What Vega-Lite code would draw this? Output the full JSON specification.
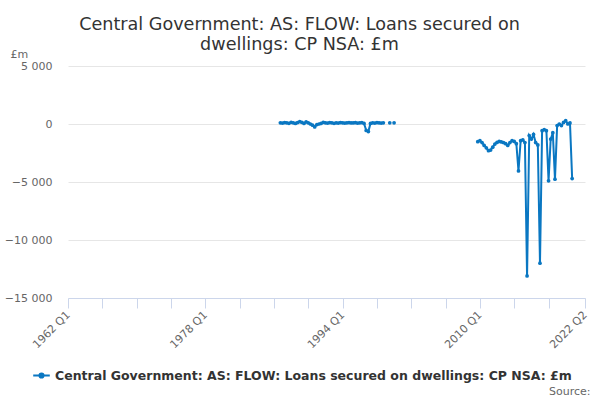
{
  "$schema": "https://vega.github.io/schema/vega-lite/v6.json",
  "autosize": "none",
  "width": 517,
  "height": 232,
  "padding": {"left": 68, "top": 66, "right": 15, "bottom": 102},
  "config": {
    "font": "DejaVu Sans",
    "view": {"stroke": null}
  },
  "title": {
    "text": ["Central Government: AS: FLOW: Loans secured on", "dwellings: CP NSA: £m"],
    "fontSize": 17.6,
    "fontWeight": "normal",
    "color": "#333333",
    "anchor": "middle",
    "dx": -27,
    "offset": -6,
    "lineHeight": 20
  },
  "data": {
    "values": [
      {"date": "1986-10-01", "value": 100, "series": "Central Government: AS: FLOW: Loans secured on dwellings: CP NSA: £m"},
      {"date": "1987-01-01", "value": 80, "series": "Central Government: AS: FLOW: Loans secured on dwellings: CP NSA: £m"},
      {"date": "1987-04-01", "value": 120, "series": "Central Government: AS: FLOW: Loans secured on dwellings: CP NSA: £m"},
      {"date": "1987-07-01", "value": 100, "series": "Central Government: AS: FLOW: Loans secured on dwellings: CP NSA: £m"},
      {"date": "1987-10-01", "value": 60, "series": "Central Government: AS: FLOW: Loans secured on dwellings: CP NSA: £m"},
      {"date": "1988-01-01", "value": 150, "series": "Central Government: AS: FLOW: Loans secured on dwellings: CP NSA: £m"},
      {"date": "1988-04-01", "value": 100, "series": "Central Government: AS: FLOW: Loans secured on dwellings: CP NSA: £m"},
      {"date": "1988-07-01", "value": 50, "series": "Central Government: AS: FLOW: Loans secured on dwellings: CP NSA: £m"},
      {"date": "1988-10-01", "value": 120, "series": "Central Government: AS: FLOW: Loans secured on dwellings: CP NSA: £m"},
      {"date": "1989-01-01", "value": 200, "series": "Central Government: AS: FLOW: Loans secured on dwellings: CP NSA: £m"},
      {"date": "1989-04-01", "value": 150, "series": "Central Government: AS: FLOW: Loans secured on dwellings: CP NSA: £m"},
      {"date": "1989-07-01", "value": 50, "series": "Central Government: AS: FLOW: Loans secured on dwellings: CP NSA: £m"},
      {"date": "1989-10-01", "value": 180, "series": "Central Government: AS: FLOW: Loans secured on dwellings: CP NSA: £m"},
      {"date": "1990-01-01", "value": 100, "series": "Central Government: AS: FLOW: Loans secured on dwellings: CP NSA: £m"},
      {"date": "1990-04-01", "value": 0, "series": "Central Government: AS: FLOW: Loans secured on dwellings: CP NSA: £m"},
      {"date": "1990-07-01", "value": -100, "series": "Central Government: AS: FLOW: Loans secured on dwellings: CP NSA: £m"},
      {"date": "1990-10-01", "value": -250, "series": "Central Government: AS: FLOW: Loans secured on dwellings: CP NSA: £m"},
      {"date": "1991-01-01", "value": -50, "series": "Central Government: AS: FLOW: Loans secured on dwellings: CP NSA: £m"},
      {"date": "1991-04-01", "value": 0, "series": "Central Government: AS: FLOW: Loans secured on dwellings: CP NSA: £m"},
      {"date": "1991-07-01", "value": 50, "series": "Central Government: AS: FLOW: Loans secured on dwellings: CP NSA: £m"},
      {"date": "1991-10-01", "value": 150, "series": "Central Government: AS: FLOW: Loans secured on dwellings: CP NSA: £m"},
      {"date": "1992-01-01", "value": 100, "series": "Central Government: AS: FLOW: Loans secured on dwellings: CP NSA: £m"},
      {"date": "1992-04-01", "value": 80, "series": "Central Government: AS: FLOW: Loans secured on dwellings: CP NSA: £m"},
      {"date": "1992-07-01", "value": 120, "series": "Central Government: AS: FLOW: Loans secured on dwellings: CP NSA: £m"},
      {"date": "1992-10-01", "value": 100, "series": "Central Government: AS: FLOW: Loans secured on dwellings: CP NSA: £m"},
      {"date": "1993-01-01", "value": 60, "series": "Central Government: AS: FLOW: Loans secured on dwellings: CP NSA: £m"},
      {"date": "1993-04-01", "value": 100, "series": "Central Government: AS: FLOW: Loans secured on dwellings: CP NSA: £m"},
      {"date": "1993-07-01", "value": 80, "series": "Central Government: AS: FLOW: Loans secured on dwellings: CP NSA: £m"},
      {"date": "1993-10-01", "value": 120, "series": "Central Government: AS: FLOW: Loans secured on dwellings: CP NSA: £m"},
      {"date": "1994-01-01", "value": 100, "series": "Central Government: AS: FLOW: Loans secured on dwellings: CP NSA: £m"},
      {"date": "1994-04-01", "value": 80, "series": "Central Government: AS: FLOW: Loans secured on dwellings: CP NSA: £m"},
      {"date": "1994-07-01", "value": 100, "series": "Central Government: AS: FLOW: Loans secured on dwellings: CP NSA: £m"},
      {"date": "1994-10-01", "value": 120, "series": "Central Government: AS: FLOW: Loans secured on dwellings: CP NSA: £m"},
      {"date": "1995-01-01", "value": 90, "series": "Central Government: AS: FLOW: Loans secured on dwellings: CP NSA: £m"},
      {"date": "1995-04-01", "value": 100, "series": "Central Government: AS: FLOW: Loans secured on dwellings: CP NSA: £m"},
      {"date": "1995-07-01", "value": 110, "series": "Central Government: AS: FLOW: Loans secured on dwellings: CP NSA: £m"},
      {"date": "1995-10-01", "value": 80, "series": "Central Government: AS: FLOW: Loans secured on dwellings: CP NSA: £m"},
      {"date": "1996-01-01", "value": 100, "series": "Central Government: AS: FLOW: Loans secured on dwellings: CP NSA: £m"},
      {"date": "1996-04-01", "value": 120, "series": "Central Government: AS: FLOW: Loans secured on dwellings: CP NSA: £m"},
      {"date": "1996-07-01", "value": 50, "series": "Central Government: AS: FLOW: Loans secured on dwellings: CP NSA: £m"},
      {"date": "1996-10-01", "value": -550, "series": "Central Government: AS: FLOW: Loans secured on dwellings: CP NSA: £m"},
      {"date": "1997-01-01", "value": -650, "series": "Central Government: AS: FLOW: Loans secured on dwellings: CP NSA: £m"},
      {"date": "1997-04-01", "value": 50, "series": "Central Government: AS: FLOW: Loans secured on dwellings: CP NSA: £m"},
      {"date": "1997-07-01", "value": 100, "series": "Central Government: AS: FLOW: Loans secured on dwellings: CP NSA: £m"},
      {"date": "1997-10-01", "value": 80, "series": "Central Government: AS: FLOW: Loans secured on dwellings: CP NSA: £m"},
      {"date": "1998-01-01", "value": 120, "series": "Central Government: AS: FLOW: Loans secured on dwellings: CP NSA: £m"},
      {"date": "1998-04-01", "value": 100, "series": "Central Government: AS: FLOW: Loans secured on dwellings: CP NSA: £m"},
      {"date": "1998-07-01", "value": 80, "series": "Central Government: AS: FLOW: Loans secured on dwellings: CP NSA: £m"},
      {"date": "1998-10-01", "value": 100, "series": "Central Government: AS: FLOW: Loans secured on dwellings: CP NSA: £m"},
      {"date": "1999-01-01", "value": null, "series": "Central Government: AS: FLOW: Loans secured on dwellings: CP NSA: £m"},
      {"date": "1999-04-01", "value": null, "series": "Central Government: AS: FLOW: Loans secured on dwellings: CP NSA: £m"},
      {"date": "1999-07-01", "value": 100, "series": "Central Government: AS: FLOW: Loans secured on dwellings: CP NSA: £m"},
      {"date": "1999-10-01", "value": null, "series": "Central Government: AS: FLOW: Loans secured on dwellings: CP NSA: £m"},
      {"date": "2000-01-01", "value": 100, "series": "Central Government: AS: FLOW: Loans secured on dwellings: CP NSA: £m"},
      {"date": "2000-04-01", "value": null, "series": "Central Government: AS: FLOW: Loans secured on dwellings: CP NSA: £m"},
      {"date": "2009-07-01", "value": null, "series": "Central Government: AS: FLOW: Loans secured on dwellings: CP NSA: £m"},
      {"date": "2009-10-01", "value": -1520, "series": "Central Government: AS: FLOW: Loans secured on dwellings: CP NSA: £m"},
      {"date": "2010-01-01", "value": -1440, "series": "Central Government: AS: FLOW: Loans secured on dwellings: CP NSA: £m"},
      {"date": "2010-04-01", "value": -1600, "series": "Central Government: AS: FLOW: Loans secured on dwellings: CP NSA: £m"},
      {"date": "2010-07-01", "value": -1850, "series": "Central Government: AS: FLOW: Loans secured on dwellings: CP NSA: £m"},
      {"date": "2010-10-01", "value": -2050, "series": "Central Government: AS: FLOW: Loans secured on dwellings: CP NSA: £m"},
      {"date": "2011-01-01", "value": -2300, "series": "Central Government: AS: FLOW: Loans secured on dwellings: CP NSA: £m"},
      {"date": "2011-04-01", "value": -2250, "series": "Central Government: AS: FLOW: Loans secured on dwellings: CP NSA: £m"},
      {"date": "2011-07-01", "value": -2000, "series": "Central Government: AS: FLOW: Loans secured on dwellings: CP NSA: £m"},
      {"date": "2011-10-01", "value": -1730, "series": "Central Government: AS: FLOW: Loans secured on dwellings: CP NSA: £m"},
      {"date": "2012-01-01", "value": -1590, "series": "Central Government: AS: FLOW: Loans secured on dwellings: CP NSA: £m"},
      {"date": "2012-04-01", "value": -1500, "series": "Central Government: AS: FLOW: Loans secured on dwellings: CP NSA: £m"},
      {"date": "2012-07-01", "value": -1550, "series": "Central Government: AS: FLOW: Loans secured on dwellings: CP NSA: £m"},
      {"date": "2012-10-01", "value": -1600, "series": "Central Government: AS: FLOW: Loans secured on dwellings: CP NSA: £m"},
      {"date": "2013-01-01", "value": -1700, "series": "Central Government: AS: FLOW: Loans secured on dwellings: CP NSA: £m"},
      {"date": "2013-04-01", "value": -1850, "series": "Central Government: AS: FLOW: Loans secured on dwellings: CP NSA: £m"},
      {"date": "2013-07-01", "value": -1600, "series": "Central Government: AS: FLOW: Loans secured on dwellings: CP NSA: £m"},
      {"date": "2013-10-01", "value": -1440, "series": "Central Government: AS: FLOW: Loans secured on dwellings: CP NSA: £m"},
      {"date": "2014-01-01", "value": -1500, "series": "Central Government: AS: FLOW: Loans secured on dwellings: CP NSA: £m"},
      {"date": "2014-04-01", "value": -1700, "series": "Central Government: AS: FLOW: Loans secured on dwellings: CP NSA: £m"},
      {"date": "2014-07-01", "value": -4050, "series": "Central Government: AS: FLOW: Loans secured on dwellings: CP NSA: £m"},
      {"date": "2014-10-01", "value": -1440, "series": "Central Government: AS: FLOW: Loans secured on dwellings: CP NSA: £m"},
      {"date": "2015-01-01", "value": -1360, "series": "Central Government: AS: FLOW: Loans secured on dwellings: CP NSA: £m"},
      {"date": "2015-04-01", "value": -1600, "series": "Central Government: AS: FLOW: Loans secured on dwellings: CP NSA: £m"},
      {"date": "2015-07-01", "value": -13100, "series": "Central Government: AS: FLOW: Loans secured on dwellings: CP NSA: £m"},
      {"date": "2015-10-01", "value": -1000, "series": "Central Government: AS: FLOW: Loans secured on dwellings: CP NSA: £m"},
      {"date": "2016-01-01", "value": -1300, "series": "Central Government: AS: FLOW: Loans secured on dwellings: CP NSA: £m"},
      {"date": "2016-04-01", "value": -900, "series": "Central Government: AS: FLOW: Loans secured on dwellings: CP NSA: £m"},
      {"date": "2016-07-01", "value": -1600, "series": "Central Government: AS: FLOW: Loans secured on dwellings: CP NSA: £m"},
      {"date": "2016-10-01", "value": -1800, "series": "Central Government: AS: FLOW: Loans secured on dwellings: CP NSA: £m"},
      {"date": "2017-01-01", "value": -12000, "series": "Central Government: AS: FLOW: Loans secured on dwellings: CP NSA: £m"},
      {"date": "2017-04-01", "value": -580, "series": "Central Government: AS: FLOW: Loans secured on dwellings: CP NSA: £m"},
      {"date": "2017-07-01", "value": -490, "series": "Central Government: AS: FLOW: Loans secured on dwellings: CP NSA: £m"},
      {"date": "2017-10-01", "value": -580, "series": "Central Government: AS: FLOW: Loans secured on dwellings: CP NSA: £m"},
      {"date": "2018-01-01", "value": -4900, "series": "Central Government: AS: FLOW: Loans secured on dwellings: CP NSA: £m"},
      {"date": "2018-04-01", "value": -1300, "series": "Central Government: AS: FLOW: Loans secured on dwellings: CP NSA: £m"},
      {"date": "2018-07-01", "value": -750, "series": "Central Government: AS: FLOW: Loans secured on dwellings: CP NSA: £m"},
      {"date": "2018-10-01", "value": -4760, "series": "Central Government: AS: FLOW: Loans secured on dwellings: CP NSA: £m"},
      {"date": "2019-01-01", "value": -140, "series": "Central Government: AS: FLOW: Loans secured on dwellings: CP NSA: £m"},
      {"date": "2019-04-01", "value": 0, "series": "Central Government: AS: FLOW: Loans secured on dwellings: CP NSA: £m"},
      {"date": "2019-07-01", "value": -140, "series": "Central Government: AS: FLOW: Loans secured on dwellings: CP NSA: £m"},
      {"date": "2019-10-01", "value": 140, "series": "Central Government: AS: FLOW: Loans secured on dwellings: CP NSA: £m"},
      {"date": "2020-01-01", "value": 290, "series": "Central Government: AS: FLOW: Loans secured on dwellings: CP NSA: £m"},
      {"date": "2020-04-01", "value": 0, "series": "Central Government: AS: FLOW: Loans secured on dwellings: CP NSA: £m"},
      {"date": "2020-07-01", "value": 90, "series": "Central Government: AS: FLOW: Loans secured on dwellings: CP NSA: £m"},
      {"date": "2020-10-01", "value": -4700, "series": "Central Government: AS: FLOW: Loans secured on dwellings: CP NSA: £m"}
    ]
  },
  "mark": {
    "type": "line",
    "strokeWidth": 2,
    "point": {"size": 14, "filled": true}
  },
  "encoding": {
    "x": {
      "field": "date",
      "type": "temporal",
      "scale": {
        "type": "utc",
        "domain": [
          {"year": 1962, "month": 1, "date": 1, "utc": true},
          {"year": 2022, "month": 4, "date": 1, "utc": true}
        ]
      },
      "axis": {
        "values": [
          {"year": 1962, "month": 1, "date": 1, "utc": true},
          {"year": 1966, "month": 1, "date": 1, "utc": true},
          {"year": 1970, "month": 1, "date": 1, "utc": true},
          {"year": 1974, "month": 1, "date": 1, "utc": true},
          {"year": 1978, "month": 1, "date": 1, "utc": true},
          {"year": 1982, "month": 1, "date": 1, "utc": true},
          {"year": 1986, "month": 1, "date": 1, "utc": true},
          {"year": 1990, "month": 1, "date": 1, "utc": true},
          {"year": 1994, "month": 1, "date": 1, "utc": true},
          {"year": 1998, "month": 1, "date": 1, "utc": true},
          {"year": 2002, "month": 1, "date": 1, "utc": true},
          {"year": 2006, "month": 1, "date": 1, "utc": true},
          {"year": 2010, "month": 1, "date": 1, "utc": true},
          {"year": 2014, "month": 1, "date": 1, "utc": true},
          {"year": 2018, "month": 1, "date": 1, "utc": true},
          {"year": 2022, "month": 4, "date": 1, "utc": true}
        ],
        "labelExpr": "indexof([1962, 1978, 1994, 2010, 2022], utcyear(datum.value)) >= 0 ? utcFormat(datum.value, '%Y Q%q') : ''",
        "labelAngle": -45,
        "labelAlign": "right",
        "labelBaseline": "middle",
        "labelPadding": 5,
        "labelOverlap": false,
        "labelFontSize": 11,
        "labelColor": "#666666",
        "grid": false,
        "domainColor": "#ccd6eb",
        "tickColor": "#ccd6eb",
        "tickSize": 10,
        "title": "Source:",
        "titleX": 522,
        "titleY": 96,
        "titleAlign": "right",
        "titleBaseline": "alphabetic",
        "titleFontSize": 11,
        "titleFontWeight": "normal",
        "titleColor": "#666666"
      }
    },
    "y": {
      "field": "value",
      "type": "quantitative",
      "scale": {"domain": [-15000, 5000], "nice": false},
      "axis": {
        "values": [-15000, -10000, -5000, 0, 5000],
        "labelExpr": "replace(format(datum.value, ','), ',', ' ')",
        "labelFontSize": 11,
        "labelColor": "#666666",
        "labelPadding": 16,
        "ticks": false,
        "tickSize": 0,
        "domain": false,
        "gridColor": "#e6e6e6",
        "title": "£m",
        "titleAngle": 0,
        "titleX": -58,
        "titleY": -9,
        "titleAlign": "left",
        "titleBaseline": "alphabetic",
        "titleFontSize": 11,
        "titleFontWeight": "normal",
        "titleColor": "#666666"
      }
    },
    "color": {
      "field": "series",
      "type": "nominal",
      "scale": {"range": ["#0a77c2"]},
      "legend": {
        "orient": "none",
        "legendX": -36,
        "legendY": 300,
        "title": null,
        "labelFontSize": 12.5,
        "labelFontWeight": "bold",
        "labelColor": "#333333",
        "labelLimit": 0,
        "symbolType": "M-1,0H1M-0.25,0A0.25,0.25,0,1,0,0.25,0A0.25,0.25,0,1,0,-0.25,0Z",
        "symbolFillColor": "#0a77c2",
        "symbolStrokeWidth": 2,
        "symbolSize": 275
      }
    }
  }
}
